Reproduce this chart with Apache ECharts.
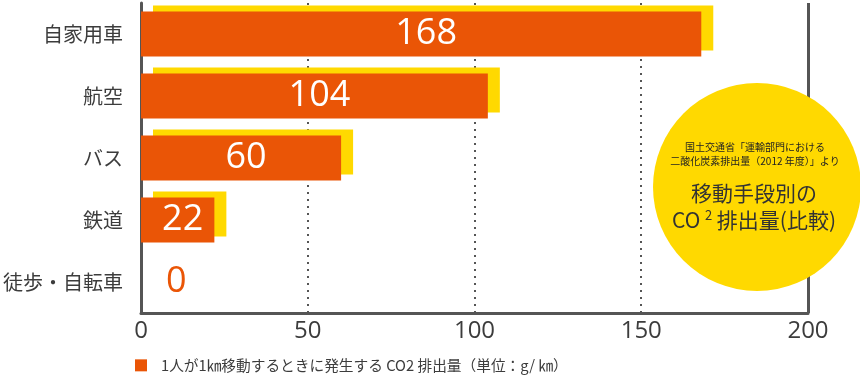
<!DOCTYPE html>
<html>
<head>
<meta charset="utf-8">
<script src="https://cdn.jsdelivr.net/npm/echarts@6/dist/echarts.min.js"></script>
<style>
html,body{margin:0;padding:0;background:#fff;}
#chart{width:860px;height:379px;}
</style>
</head>
<body>
<div id="chart"></div>
<script>
const categories = ['自家用車', '航空', 'バス', '鉄道', '徒歩・自転車'];
const values = [168, 104, 60, 22, 0];
const seriesName = '1人が1㎞移動するときに発生する CO2 排出量（単位：g/ ㎞）';
const xTicks = [0, 50, 100, 150, 200];
const noteLines = ['国土交通省「運輸部門における', '二酸化炭素排出量（2012 年度）」より'];
const titleLines = ['移動手段別の', '排出量(比較)'];

const ORANGE = '#EA5506';
const YELLOW = '#FFD900';
const GRAY = '#555555';
const TEXT = '#3c3c3c';
const CJK = '"Noto Sans CJK JP", "Noto Sans", sans-serif';
const NUM = '"Open Sans", "Noto Sans", sans-serif';

const chart = echarts.init(document.getElementById('chart'), null, {renderer: 'canvas'});

const data = values.map(function (v) {
  if (v === 0) {
    return {value: v, label: {position: 'insideLeft', color: ORANGE, offset: [20, 0]}};
  }
  return v;
});

const cx = 757, cy = 187, r = 104;

chart.setOption({
  animation: false,
  grid: {left: 140.5, right: 52, top: 3, bottom: 66, containLabel: false},
  legend: {
    show: true,
    left: 130,
    top: 353,
    icon: 'rect',
    itemWidth: 12,
    itemHeight: 12,
    textStyle: {fontFamily: CJK, fontSize: 14.7, color: TEXT, padding: [0, 0, 0, 9]},
    data: [seriesName]
  },
  xAxis: {
    type: 'value',
    min: xTicks[0],
    max: xTicks[xTicks.length - 1],
    interval: 50,
    axisLine: {show: true, lineStyle: {color: GRAY, width: 3}},
    axisTick: {show: false},
    axisLabel: {fontFamily: NUM, fontSize: 24, color: TEXT, margin: 6},
    splitLine: {show: true, lineStyle: {color: GRAY, width: 2, type: [2, 5]}}
  },
  yAxis: {
    type: 'category',
    inverse: true,
    data: categories,
    axisLine: {show: true, onZero: false, lineStyle: {color: GRAY, width: 3}},
    axisTick: {show: false},
    axisLabel: {fontFamily: CJK, fontSize: 20, color: TEXT, margin: 18}
  },
  series: [{
    name: seriesName,
    type: 'bar',
    data: data,
    barWidth: 45,
    itemStyle: {
      color: ORANGE,
      shadowColor: YELLOW,
      shadowBlur: 0,
      shadowOffsetX: 12,
      shadowOffsetY: -6
    },
    label: {
      show: true,
      position: 'inside',
      offset: [5, 0],
      color: '#ffffff',
      fontFamily: NUM,
      fontSize: 36
    },
    markLine: {
      silent: true,
      symbol: 'none',
      label: {show: false},
      lineStyle: {color: GRAY, width: 3, type: 'solid'},
      data: [{xAxis: 200}]
    }
  }],
  graphic: [
    {type: 'circle', shape: {cx: cx, cy: cy, r: r}, style: {fill: YELLOW}, z: 100},
    {type: 'text', x: cx - 2, y: 147, z: 101, style: {text: noteLines[0], font: '10px ' + CJK, fill: '#222', align: 'center', verticalAlign: 'middle'}},
    {type: 'text', x: cx - 2, y: 161, z: 101, style: {text: noteLines[1], font: '10px ' + CJK, fill: '#222', align: 'center', verticalAlign: 'middle'}},
    {type: 'text', x: cx - 3, y: 193, z: 101, style: {text: titleLines[0], font: '21px ' + CJK, fill: '#333', align: 'center', verticalAlign: 'middle'}},
    {type: 'text', x: cx - 3, y: 220, z: 101, style: {
      text: '{a|CO }{s|2}{a| ' + titleLines[1] + '}',
      align: 'center', verticalAlign: 'middle',
      rich: {
        a: {fontFamily: CJK, fontSize: 21, fill: '#333', color: '#333'},
        s: {fontFamily: CJK, fontSize: 13, fill: '#333', color: '#333', padding: [0, 0, 10, 0]}
      }
    }}
  ]
});
</script>
</body>
</html>
